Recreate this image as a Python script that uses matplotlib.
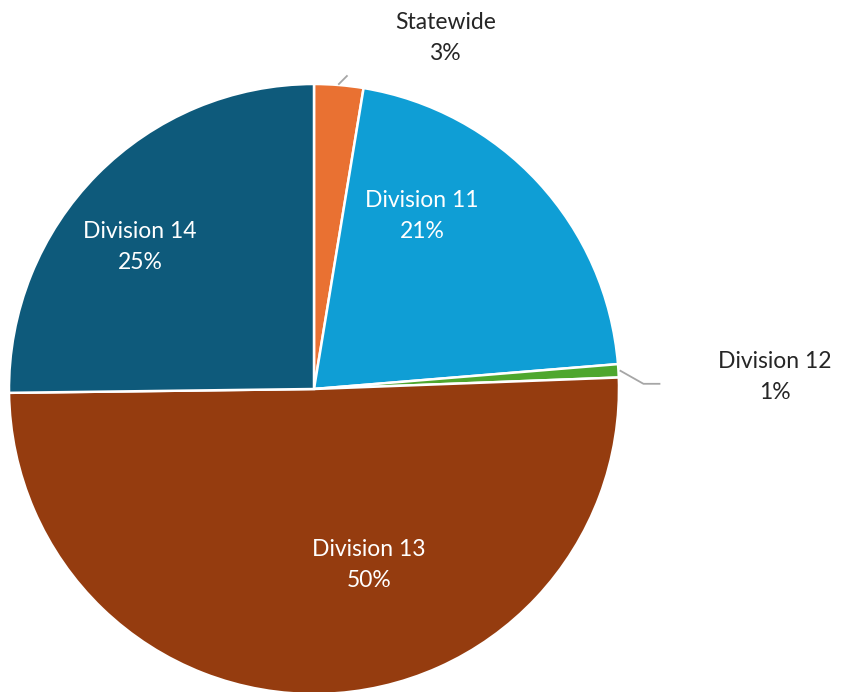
import numpy as np
import matplotlib.pyplot as plt

# slice data (clockwise from 12 o'clock)
categories = ['Statewide', 'Division 11', 'Division 12', 'Division 13', 'Division 14']
shares = [2.6, 21.1, 0.7, 50.4, 25.2]
pct_labels = ['3%', '21%', '1%', '50%', '25%']
colors = ['#E97132', '#0F9ED5', '#4EA72E', '#953C0F', '#0E5A7B']

# label anchors, in units of radius relative to pie centre
label_pos = [(0.43, 1.15), (0.354, 0.567), (1.511, 0.039), (0.180, -0.577), (-0.570, 0.466)]
inside = [False, True, False, True, True]

W, H = 846, 692
fig = plt.figure(figsize=(W / 100, H / 100), dpi=100)
ax = fig.add_axes([0, 0, 1, 1])

cx, cy, r = 314, H - 389, 305
wedges, _ = ax.pie(shares, colors=colors, startangle=90, counterclock=False,
                   center=(cx, cy), radius=r, frame=True,
                   wedgeprops=dict(edgecolor='white', linewidth=1.8))
ax.set_xlim(0, W)
ax.set_ylim(0, H)
ax.set_aspect('equal')
ax.axis('off')

font = 'Lato'
for i, w in enumerate(wedges):
    tx, ty = cx + label_pos[i][0] * r, cy + label_pos[i][1] * r
    txt = f'{categories[i]}\n{pct_labels[i]}'
    if inside[i]:
        ax.text(tx, ty, txt, ha='center', va='center', color='white',
                fontsize=16.5, family=font, linespacing=1.6)
    else:
        ax.text(tx, ty, txt, ha='center', va='center', color='#262626',
                fontsize=16.5, family=font, linespacing=1.6)
        mid = np.deg2rad((w.theta1 + w.theta2) / 2)
        ex, ey = cx + r * np.cos(mid), cy + r * np.sin(mid)
        if i == 0:
            xs = [ex, ex + 8]
            ys = [ey + 1, ey + 9]
        else:
            xs = [ex + 2, ex + 25, ex + 41]
            ys = [ey, ey - 13, ey - 13]
        ax.plot(xs, ys, color='#A6A6A6', linewidth=1.3)

fig.savefig('out.png', dpi=100, facecolor='white')
